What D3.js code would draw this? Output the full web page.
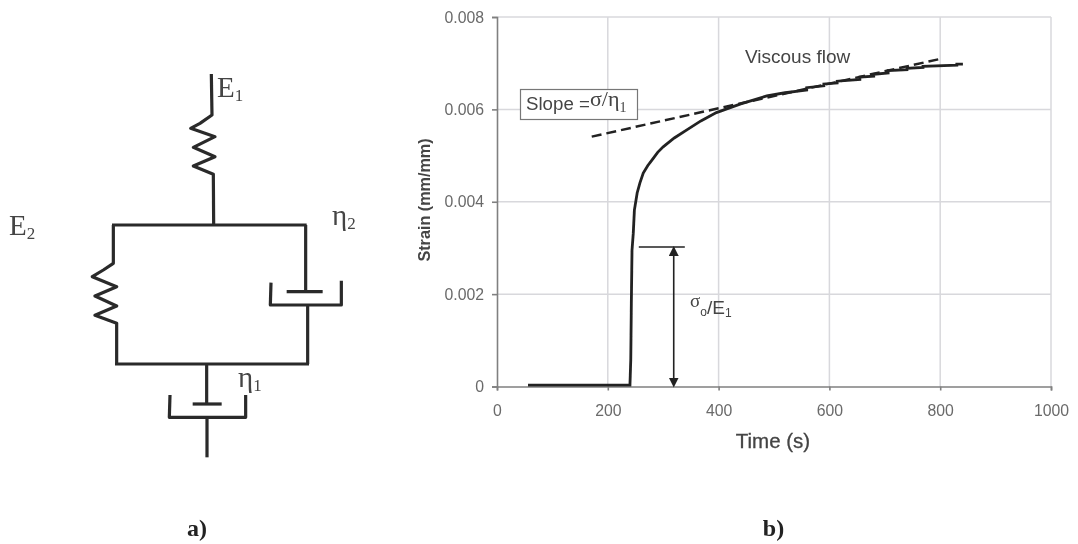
<!DOCTYPE html>
<html>
<head>
<meta charset="utf-8">
<script src="https://cdn.jsdelivr.net/npm/d3@7"></script>
<style>
    html, body { margin: 0; padding: 0; background: #fff; }
    svg { display: block; }
    text { font-family: "Liberation Sans", Arial, sans-serif; fill: #555; }
    .serif { font-family: "Liberation Serif", "Times New Roman", serif; }
</style>
</head>
<body>
<div id="chart"></div>
<script>
let timeValues = [56, 100, 150, 200, 240, 241.5, 242.5, 243.7, 246, 248, 253, 258, 264, 272, 282, 290, 300, 320, 342, 368, 396, 440, 487, 520, 547, 559, 559, 590, 590, 614, 614, 655, 655, 680, 680, 706, 706, 740, 740, 769, 769, 830, 830, 841];
let strainValues = [0.00003, 0.00003, 0.00003, 0.00003, 0.00003, 0.0006, 0.0018, 0.00295, 0.00332, 0.00382, 0.00419, 0.00441, 0.00462, 0.00478, 0.00494, 0.00507, 0.00519, 0.00538, 0.00555, 0.00575, 0.00593, 0.00612, 0.00629, 0.00636, 0.0064, 0.00642, 0.00647, 0.00651, 0.00655, 0.00657, 0.00661, 0.00665, 0.0067, 0.00672, 0.00676, 0.00679, 0.00684, 0.00686, 0.00689, 0.00691, 0.00693, 0.00696, 0.00698, 0.00698];

let slopeTimes = [171, 799];
let slopeStrains = [0.00541, 0.00709];

let elasticTimes = [256, 339];
let elasticTop = 0.00302;
let elasticArrowTime = 319;

let xTicks = [0, 200, 400, 600, 800, 1000];
let yTicks = [0, 0.002, 0.004, 0.006, 0.008];

// panel a schematic, in its own drawing units
let topSpring = [[634, 42], [636, 165], [600, 190], [572, 205], [645, 230], [580, 262], [645, 290], [580, 318], [640, 343], [641, 495]];
let upperBar = [[336, 495], [920, 495]];
let leftSpring = [[340, 495], [340, 610], [310, 630], [277, 650], [350, 680], [285, 708], [350, 738], [285, 766], [350, 790], [350, 912]];
let lowerBar = [[345, 912], [927, 912]];
let rightRod = [[917, 495], [917, 695]];
let rightPiston = [[860, 695], [968, 695]];
let rightCup = [[813, 668], [811, 735], [1024, 735], [1024, 662]];
let rightLower = [[923, 735], [923, 912]];
let bottomRod = [[620, 912], [620, 1032]];
let bottomPiston = [[578, 1032], [665, 1032]];
let bottomCup = [[510, 1005], [508, 1072], [737, 1072], [737, 1005]];
let bottomTail = [[621, 1072], [621, 1192]];
let schematic = [topSpring, upperBar, leftSpring, lowerBar, rightRod, rightPiston, rightCup, rightLower, bottomRod, bottomPiston, bottomCup, bottomTail];

let width = 1078, height = 544;

let svg = d3.select("#chart").append("svg")
    .attr("width", width)
    .attr("height", height);

let defs = svg.append("defs");
defs.append("filter").attr("id", "soft")
    .attr("x", "-5%").attr("y", "-5%").attr("width", "110%").attr("height", "110%")
    .append("feGaussianBlur").attr("stdDeviation", 0.45);

let marker = (id, path) => defs.append("marker")
    .attr("id", id)
    .attr("viewBox", "0 0 10 10")
    .attr("refX", 5).attr("refY", 5)
    .attr("markerWidth", 10).attr("markerHeight", 10)
    .attr("markerUnits", "userSpaceOnUse")
    .append("path").attr("d", path).attr("fill", "#222");
marker("arrowUp", "M5,0 L10,10 L0,10 Z");
marker("arrowDown", "M0,0 L10,0 L5,10 Z");

let root = svg.append("g").attr("filter", "url(#soft)");

// ---- panel a
let sx = d3.scaleLinear().domain([0, 1200]).range([0, 400]);
let sy = d3.scaleLinear().domain([0, 1230]).range([60, 470]);
let schemLine = d3.line().x(d => sx(d[0])).y(d => sy(d[1]));

root.append("g").selectAll("path")
    .data(schematic)
    .join("path")
    .attr("d", schemLine)
    .attr("fill", "none")
    .attr("stroke", "#2a2a2a")
    .attr("stroke-width", 3.2)
    .attr("stroke-linejoin", "round");

function subLabel(x, y, main, sub) {
    let t = root.append("text")
        .attr("class", "serif")
        .attr("x", x)
        .attr("y", y)
        .style("font-size", "29px")
        .style("fill", "#444");
    t.append("tspan").text(main);
    t.append("tspan").attr("dy", 4).style("font-size", "17px").text(sub);
}
subLabel(217, 97, "E", "1");
subLabel(9, 235, "E", "2");
subLabel(332, 225, "\u03B7", "2");
subLabel(238, 387, "\u03B7", "1");

root.append("text").attr("class", "serif")
    .attr("x", 197).attr("y", 536)
    .attr("text-anchor", "middle")
    .style("font-size", "24px").style("font-weight", "bold").style("fill", "#222")
    .text("a)");
root.append("text").attr("class", "serif")
    .attr("x", 773.5).attr("y", 536)
    .attr("text-anchor", "middle")
    .style("font-size", "24px").style("font-weight", "bold").style("fill", "#222")
    .text("b)");

// ---- panel b
let x = d3.scaleLinear().domain([0, 1000]).range([497, 1051]);
let y = d3.scaleLinear().domain([0, 0.008]).range([386.5, 17]);

let grid = root.append("g").attr("stroke", "#d8d8dc").attr("stroke-width", 1.5);
grid.selectAll("line.v").data(xTicks.slice(1)).join("line")
    .attr("class", "v")
    .attr("x1", d => x(d)).attr("x2", d => x(d))
    .attr("y1", y(0)).attr("y2", y(0.008));
grid.selectAll("line.h").data(yTicks.slice(1)).join("line")
    .attr("class", "h")
    .attr("x1", x(0)).attr("x2", x(1000))
    .attr("y1", d => y(d)).attr("y2", d => y(d));

let xAxis = root.append("g")
    .attr("transform", "translate(0," + y(0) + ")")
    .call(d3.axisBottom(x).tickValues(xTicks).tickSize(4).tickPadding(14).tickFormat(d3.format("d")));
let yAxis = root.append("g")
    .attr("transform", "translate(" + x(0) + ",0)")
    .call(d3.axisLeft(y).tickValues(yTicks).tickSize(5).tickPadding(8).tickFormat(d => d === 0 ? "0" : d3.format(".3f")(d)));
[xAxis, yAxis].forEach(a => {
    a.selectAll("path, line").attr("stroke", "#808080").attr("stroke-width", 1.6);
    a.selectAll("text").style("font-size", "15.8px").style("font-family", '"Liberation Sans", Arial, sans-serif').style("fill", "#6a6a6a");
});

root.append("text")
    .attr("x", 773).attr("y", 448)
    .attr("text-anchor", "middle")
    .style("font-size", "20.5px").style("fill", "#444").style("stroke", "#444").style("stroke-width", 0.3)
    .text("Time (s)");

root.append("text")
    .attr("transform", "translate(430,200) rotate(-90)")
    .attr("text-anchor", "middle")
    .style("font-size", "16.2px").style("font-weight", "bold").style("fill", "#444")
    .text("Strain (mm/mm)");

let curve = d3.line().x((d, i) => x(timeValues[i])).y(d => y(d));
root.append("path")
    .attr("d", curve(strainValues))
    .attr("fill", "none")
    .attr("stroke", "#222")
    .attr("stroke-width", 2.8);

root.append("path")
    .attr("d", d3.line().x((d, i) => x(slopeTimes[i])).y(d => y(d))(slopeStrains))
    .attr("fill", "none")
    .attr("stroke", "#222")
    .attr("stroke-width", 2.5)
    .attr("stroke-dasharray", "10,5");

// elastic step marker
root.append("line")
    .attr("x1", x(elasticTimes[0])).attr("x2", x(elasticTimes[1]))
    .attr("y1", y(elasticTop)).attr("y2", y(elasticTop))
    .attr("stroke", "#222").attr("stroke-width", 1.5);
root.append("line")
    .attr("x1", x(elasticArrowTime)).attr("x2", x(elasticArrowTime))
    .attr("y1", y(elasticTop) + 4).attr("y2", y(0) - 4)
    .attr("stroke", "#222").attr("stroke-width", 1.6)
    .attr("marker-start", "url(#arrowUp)")
    .attr("marker-end", "url(#arrowDown)");

let elasticLabel = root.append("text")
    .attr("x", 690).attr("y", 307)
    .style("font-size", "19px").style("fill", "#444");
elasticLabel.append("tspan").attr("class", "serif").text("\u03C3");
elasticLabel.append("tspan").attr("dy", 9).style("font-size", "12px").text("o");
elasticLabel.append("tspan").attr("dy", -2).text("/E");
elasticLabel.append("tspan").attr("dy", 3).style("font-size", "12px").text("1");

root.append("text")
    .attr("x", 745).attr("y", 63)
    .style("font-size", "19px").style("fill", "#444")
    .text("Viscous flow");

// slope callout
root.append("rect")
    .attr("x", 520.5).attr("y", 89.5)
    .attr("width", 117).attr("height", 30)
    .attr("fill", "#fff").attr("stroke", "#777").attr("stroke-width", 1.2);
let slopeLabel = root.append("text")
    .attr("x", 526).attr("y", 110)
    .style("font-size", "18.7px").style("fill", "#444");
slopeLabel.append("tspan").text("Slope =");
slopeLabel.append("tspan").attr("class", "serif").attr("dy", -4).style("font-size", "22px").text("\u03C3/\u03B7");
slopeLabel.append("tspan").attr("class", "serif").attr("dy", 6).style("font-size", "14px").text("1");
</script>
</body>
</html>
